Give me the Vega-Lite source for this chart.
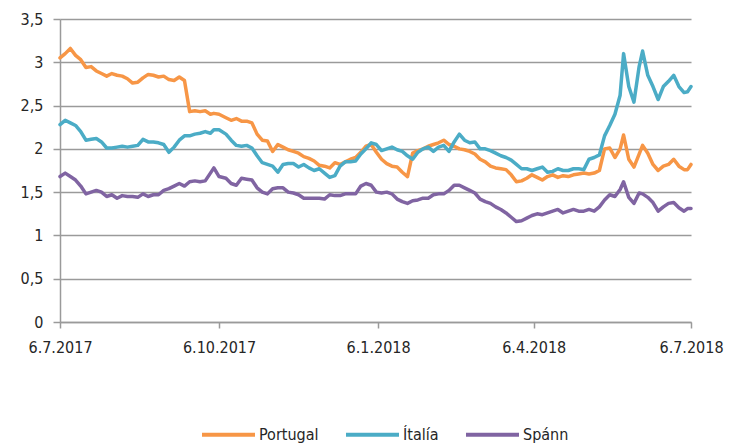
{
  "$schema": "https://vega.github.io/schema/vega-lite/v6.json",
  "width": 631,
  "height": 303,
  "autosize": {"type": "none"},
  "padding": {"left": 60, "top": 19, "right": 39, "bottom": 121},
  "background": "white",
  "config": {
    "view": {"stroke": null},
    "font": "DejaVu Sans Condensed",
    "axis": {"labelFont": "DejaVu Sans Condensed", "labelFontSize": 16, "labelColor": "#262626"},
    "legend": {"labelFont": "DejaVu Sans Condensed", "labelFontSize": 16, "labelColor": "#262626"}
  },
  "data": {
    "values": [
      {"date": "2017-07-06", "Portugal": 3.05, "Ítalía": 2.28, "Spánn": 1.68},
      {"date": "2017-07-09", "Portugal": 3.10, "Ítalía": 2.33, "Spánn": 1.72},
      {"date": "2017-07-12", "Portugal": 3.16, "Ítalía": 2.30, "Spánn": 1.68},
      {"date": "2017-07-15", "Portugal": 3.08, "Ítalía": 2.27, "Spánn": 1.64},
      {"date": "2017-07-18", "Portugal": 3.03, "Ítalía": 2.20, "Spánn": 1.57},
      {"date": "2017-07-21", "Portugal": 2.94, "Ítalía": 2.10, "Spánn": 1.48},
      {"date": "2017-07-24", "Portugal": 2.95, "Ítalía": 2.11, "Spánn": 1.50},
      {"date": "2017-07-27", "Portugal": 2.90, "Ítalía": 2.12, "Spánn": 1.52},
      {"date": "2017-07-30", "Portugal": 2.87, "Ítalía": 2.08, "Spánn": 1.50},
      {"date": "2017-08-02", "Portugal": 2.84, "Ítalía": 2.01, "Spánn": 1.45},
      {"date": "2017-08-05", "Portugal": 2.87, "Ítalía": 2.01, "Spánn": 1.47},
      {"date": "2017-08-08", "Portugal": 2.85, "Ítalía": 2.02, "Spánn": 1.43},
      {"date": "2017-08-11", "Portugal": 2.84, "Ítalía": 2.03, "Spánn": 1.46},
      {"date": "2017-08-14", "Portugal": 2.81, "Ítalía": 2.02, "Spánn": 1.45},
      {"date": "2017-08-17", "Portugal": 2.76, "Ítalía": 2.03, "Spánn": 1.45},
      {"date": "2017-08-20", "Portugal": 2.77, "Ítalía": 2.04, "Spánn": 1.44},
      {"date": "2017-08-23", "Portugal": 2.82, "Ítalía": 2.11, "Spánn": 1.48},
      {"date": "2017-08-26", "Portugal": 2.86, "Ítalía": 2.08, "Spánn": 1.45},
      {"date": "2017-08-29", "Portugal": 2.85, "Ítalía": 2.08, "Spánn": 1.47},
      {"date": "2017-09-01", "Portugal": 2.83, "Ítalía": 2.07, "Spánn": 1.47},
      {"date": "2017-09-04", "Portugal": 2.84, "Ítalía": 2.05, "Spánn": 1.52},
      {"date": "2017-09-07", "Portugal": 2.80, "Ítalía": 1.96, "Spánn": 1.54},
      {"date": "2017-09-10", "Portugal": 2.79, "Ítalía": 2.02, "Spánn": 1.57},
      {"date": "2017-09-13", "Portugal": 2.83, "Ítalía": 2.10, "Spánn": 1.60},
      {"date": "2017-09-16", "Portugal": 2.79, "Ítalía": 2.15, "Spánn": 1.57},
      {"date": "2017-09-19", "Portugal": 2.43, "Ítalía": 2.15, "Spánn": 1.62},
      {"date": "2017-09-22", "Portugal": 2.44, "Ítalía": 2.17, "Spánn": 1.63},
      {"date": "2017-09-25", "Portugal": 2.43, "Ítalía": 2.18, "Spánn": 1.62},
      {"date": "2017-09-28", "Portugal": 2.44, "Ítalía": 2.20, "Spánn": 1.63},
      {"date": "2017-10-01", "Portugal": 2.40, "Ítalía": 2.18, "Spánn": 1.72},
      {"date": "2017-10-03", "Portugal": 2.41, "Ítalía": 2.22, "Spánn": 1.78},
      {"date": "2017-10-06", "Portugal": 2.40, "Ítalía": 2.22, "Spánn": 1.68},
      {"date": "2017-10-10", "Portugal": 2.36, "Ítalía": 2.17, "Spánn": 1.66},
      {"date": "2017-10-13", "Portugal": 2.33, "Ítalía": 2.10, "Spánn": 1.60},
      {"date": "2017-10-16", "Portugal": 2.35, "Ítalía": 2.04, "Spánn": 1.58},
      {"date": "2017-10-19", "Portugal": 2.32, "Ítalía": 2.03, "Spánn": 1.66},
      {"date": "2017-10-22", "Portugal": 2.32, "Ítalía": 2.04, "Spánn": 1.65},
      {"date": "2017-10-25", "Portugal": 2.30, "Ítalía": 2.01, "Spánn": 1.64},
      {"date": "2017-10-28", "Portugal": 2.17, "Ítalía": 1.92, "Spánn": 1.55},
      {"date": "2017-10-31", "Portugal": 2.10, "Ítalía": 1.84, "Spánn": 1.50},
      {"date": "2017-11-03", "Portugal": 2.09, "Ítalía": 1.82, "Spánn": 1.48},
      {"date": "2017-11-06", "Portugal": 1.97, "Ítalía": 1.80, "Spánn": 1.54},
      {"date": "2017-11-09", "Portugal": 2.05, "Ítalía": 1.73, "Spánn": 1.55},
      {"date": "2017-11-12", "Portugal": 2.02, "Ítalía": 1.82, "Spánn": 1.55},
      {"date": "2017-11-15", "Portugal": 1.99, "Ítalía": 1.83, "Spánn": 1.50},
      {"date": "2017-11-18", "Portugal": 1.97, "Ítalía": 1.83, "Spánn": 1.49},
      {"date": "2017-11-21", "Portugal": 1.95, "Ítalía": 1.79, "Spánn": 1.47},
      {"date": "2017-11-24", "Portugal": 1.91, "Ítalía": 1.82, "Spánn": 1.43},
      {"date": "2017-11-27", "Portugal": 1.89, "Ítalía": 1.78, "Spánn": 1.43},
      {"date": "2017-11-30", "Portugal": 1.86, "Ítalía": 1.75, "Spánn": 1.43},
      {"date": "2017-12-03", "Portugal": 1.81, "Ítalía": 1.77, "Spánn": 1.43},
      {"date": "2017-12-06", "Portugal": 1.80, "Ítalía": 1.72, "Spánn": 1.42},
      {"date": "2017-12-09", "Portugal": 1.78, "Ítalía": 1.67, "Spánn": 1.47},
      {"date": "2017-12-12", "Portugal": 1.84, "Ítalía": 1.69, "Spánn": 1.46},
      {"date": "2017-12-15", "Portugal": 1.82, "Ítalía": 1.80, "Spánn": 1.46},
      {"date": "2017-12-18", "Portugal": 1.85, "Ítalía": 1.85, "Spánn": 1.48},
      {"date": "2017-12-21", "Portugal": 1.88, "Ítalía": 1.85, "Spánn": 1.48},
      {"date": "2017-12-24", "Portugal": 1.90, "Ítalía": 1.86, "Spánn": 1.48},
      {"date": "2017-12-27", "Portugal": 1.96, "Ítalía": 1.94, "Spánn": 1.57},
      {"date": "2017-12-30", "Portugal": 2.03, "Ítalía": 2.00, "Spánn": 1.60},
      {"date": "2018-01-02", "Portugal": 2.05, "Ítalía": 2.07, "Spánn": 1.58},
      {"date": "2018-01-05", "Portugal": 1.96, "Ítalía": 2.05, "Spánn": 1.50},
      {"date": "2018-01-08", "Portugal": 1.88, "Ítalía": 1.98, "Spánn": 1.49},
      {"date": "2018-01-11", "Portugal": 1.83, "Ítalía": 2.00, "Spánn": 1.50},
      {"date": "2018-01-14", "Portugal": 1.80, "Ítalía": 2.02, "Spánn": 1.48},
      {"date": "2018-01-17", "Portugal": 1.79, "Ítalía": 1.99, "Spánn": 1.42},
      {"date": "2018-01-20", "Portugal": 1.73, "Ítalía": 1.97, "Spánn": 1.39},
      {"date": "2018-01-23", "Portugal": 1.68, "Ítalía": 1.92, "Spánn": 1.37},
      {"date": "2018-01-26", "Portugal": 1.95, "Ítalía": 1.88, "Spánn": 1.40},
      {"date": "2018-01-29", "Portugal": 1.98, "Ítalía": 1.96, "Spánn": 1.41},
      {"date": "2018-02-01", "Portugal": 2.00, "Ítalía": 2.00, "Spánn": 1.43},
      {"date": "2018-02-04", "Portugal": 2.03, "Ítalía": 2.02, "Spánn": 1.43},
      {"date": "2018-02-07", "Portugal": 2.05, "Ítalía": 1.97, "Spánn": 1.47},
      {"date": "2018-02-10", "Portugal": 2.07, "Ítalía": 2.02, "Spánn": 1.48},
      {"date": "2018-02-13", "Portugal": 2.10, "Ítalía": 2.04, "Spánn": 1.48},
      {"date": "2018-02-16", "Portugal": 2.05, "Ítalía": 1.97, "Spánn": 1.52},
      {"date": "2018-02-19", "Portugal": 2.03, "Ítalía": 2.08, "Spánn": 1.58},
      {"date": "2018-02-22", "Portugal": 2.00, "Ítalía": 2.17, "Spánn": 1.58},
      {"date": "2018-02-25", "Portugal": 1.99, "Ítalía": 2.10, "Spánn": 1.55},
      {"date": "2018-02-28", "Portugal": 1.97, "Ítalía": 2.07, "Spánn": 1.52},
      {"date": "2018-03-03", "Portugal": 1.94, "Ítalía": 2.08, "Spánn": 1.49},
      {"date": "2018-03-06", "Portugal": 1.88, "Ítalía": 2.00, "Spánn": 1.42},
      {"date": "2018-03-09", "Portugal": 1.85, "Ítalía": 2.00, "Spánn": 1.39},
      {"date": "2018-03-12", "Portugal": 1.80, "Ítalía": 1.98, "Spánn": 1.37},
      {"date": "2018-03-15", "Portugal": 1.78, "Ítalía": 1.95, "Spánn": 1.33},
      {"date": "2018-03-18", "Portugal": 1.77, "Ítalía": 1.92, "Spánn": 1.30},
      {"date": "2018-03-21", "Portugal": 1.76, "Ítalía": 1.90, "Spánn": 1.26},
      {"date": "2018-03-24", "Portugal": 1.70, "Ítalía": 1.87, "Spánn": 1.21},
      {"date": "2018-03-27", "Portugal": 1.62, "Ítalía": 1.82, "Spánn": 1.16},
      {"date": "2018-03-30", "Portugal": 1.63, "Ítalía": 1.77, "Spánn": 1.17},
      {"date": "2018-04-02", "Portugal": 1.66, "Ítalía": 1.77, "Spánn": 1.20},
      {"date": "2018-04-05", "Portugal": 1.70, "Ítalía": 1.75, "Spánn": 1.23},
      {"date": "2018-04-08", "Portugal": 1.67, "Ítalía": 1.77, "Spánn": 1.25},
      {"date": "2018-04-11", "Portugal": 1.64, "Ítalía": 1.79, "Spánn": 1.24},
      {"date": "2018-04-14", "Portugal": 1.68, "Ítalía": 1.73, "Spánn": 1.26},
      {"date": "2018-04-17", "Portugal": 1.70, "Ítalía": 1.74, "Spánn": 1.28},
      {"date": "2018-04-20", "Portugal": 1.67, "Ítalía": 1.77, "Spánn": 1.30},
      {"date": "2018-04-23", "Portugal": 1.69, "Ítalía": 1.75, "Spánn": 1.26},
      {"date": "2018-04-26", "Portugal": 1.68, "Ítalía": 1.75, "Spánn": 1.28},
      {"date": "2018-04-29", "Portugal": 1.70, "Ítalía": 1.77, "Spánn": 1.30},
      {"date": "2018-05-02", "Portugal": 1.71, "Ítalía": 1.77, "Spánn": 1.28},
      {"date": "2018-05-05", "Portugal": 1.72, "Ítalía": 1.76, "Spánn": 1.28},
      {"date": "2018-05-08", "Portugal": 1.71, "Ítalía": 1.88, "Spánn": 1.30},
      {"date": "2018-05-11", "Portugal": 1.72, "Ítalía": 1.90, "Spánn": 1.28},
      {"date": "2018-05-14", "Portugal": 1.75, "Ítalía": 1.93, "Spánn": 1.33},
      {"date": "2018-05-17", "Portugal": 2.00, "Ítalía": 2.15, "Spánn": 1.41},
      {"date": "2018-05-20", "Portugal": 2.01, "Ítalía": 2.27, "Spánn": 1.47},
      {"date": "2018-05-23", "Portugal": 1.90, "Ítalía": 2.40, "Spánn": 1.45},
      {"date": "2018-05-26", "Portugal": 2.00, "Ítalía": 2.62, "Spánn": 1.53},
      {"date": "2018-05-28", "Portugal": 2.16, "Ítalía": 3.10, "Spánn": 1.62},
      {"date": "2018-05-31", "Portugal": 1.88, "Ítalía": 2.72, "Spánn": 1.44},
      {"date": "2018-06-03", "Portugal": 1.79, "Ítalía": 2.54, "Spánn": 1.37},
      {"date": "2018-06-06", "Portugal": 1.94, "Ítalía": 2.95, "Spánn": 1.49},
      {"date": "2018-06-08", "Portugal": 2.04, "Ítalía": 3.13, "Spánn": 1.48},
      {"date": "2018-06-11", "Portugal": 1.95, "Ítalía": 2.85, "Spánn": 1.44},
      {"date": "2018-06-14", "Portugal": 1.82, "Ítalía": 2.72, "Spánn": 1.38},
      {"date": "2018-06-17", "Portugal": 1.75, "Ítalía": 2.57, "Spánn": 1.28},
      {"date": "2018-06-20", "Portugal": 1.80, "Ítalía": 2.72, "Spánn": 1.33},
      {"date": "2018-06-23", "Portugal": 1.82, "Ítalía": 2.78, "Spánn": 1.37},
      {"date": "2018-06-26", "Portugal": 1.88, "Ítalía": 2.85, "Spánn": 1.38},
      {"date": "2018-06-29", "Portugal": 1.80, "Ítalía": 2.72, "Spánn": 1.32},
      {"date": "2018-07-02", "Portugal": 1.76, "Ítalía": 2.65, "Spánn": 1.28},
      {"date": "2018-07-04", "Portugal": 1.76, "Ítalía": 2.66, "Spánn": 1.31},
      {"date": "2018-07-06", "Portugal": 1.82, "Ítalía": 2.72, "Spánn": 1.31}
    ]
  },
  "transform": [
    {"fold": ["Portugal", "Ítalía", "Spánn"], "as": ["series", "value"]}
  ],
  "mark": {"type": "line", "strokeWidth": 3.5, "strokeJoin": "round", "strokeCap": "round"},
  "encoding": {
    "x": {
      "field": "date",
      "type": "temporal",
      "scale": {
        "type": "utc",
        "domain": [
          {"year": 2017, "month": 7, "date": 6, "utc": true},
          {"year": 2018, "month": 7, "date": 6, "utc": true}
        ],
        "nice": false
      },
      "axis": {
        "title": null,
        "grid": false,
        "values": [
          {"year": 2017, "month": 7, "date": 6, "utc": true},
          {"year": 2017, "month": 10, "date": 6, "utc": true},
          {"year": 2018, "month": 1, "date": 6, "utc": true},
          {"year": 2018, "month": 4, "date": 6, "utc": true},
          {"year": 2018, "month": 7, "date": 6, "utc": true}
        ],
        "labelExpr": "utcFormat(datum.value, '%-d.%-m.%Y')",
        "labelFlush": false,
        "labelOverlap": false,
        "domainColor": "#9a9a9a",
        "domainWidth": 1.5,
        "tickColor": "#9a9a9a",
        "tickWidth": 1.5,
        "tickSize": 6,
        "labelPadding": 11
      }
    },
    "y": {
      "field": "value",
      "type": "quantitative",
      "scale": {"domain": [0, 3.5], "nice": false, "zero": true},
      "axis": {
        "title": null,
        "values": [0, 0.5, 1, 1.5, 2, 2.5, 3, 3.5],
        "labelExpr": "replace(format(datum.value, '.2~g'), '.', ',')",
        "grid": true,
        "gridColor": "#9a9a9a",
        "gridWidth": 1.5,
        "domainColor": "#9a9a9a",
        "domainWidth": 1.5,
        "tickColor": "#9a9a9a",
        "tickWidth": 1.5,
        "tickSize": 7,
        "labelPadding": 10
      }
    },
    "color": {
      "field": "series",
      "type": "nominal",
      "sort": ["Portugal", "Ítalía", "Spánn"],
      "scale": {
        "domain": ["Portugal", "Ítalía", "Spánn"],
        "range": ["#F79646", "#4BACC6", "#8064A2"]
      },
      "legend": {
        "title": null,
        "orient": "none",
        "direction": "horizontal",
        "legendX": 140,
        "legendY": 387,
        "symbolType": "stroke",
        "symbolSize": 2809,
        "symbolStrokeWidth": 4,
        "labelOffset": 2,
        "columnPadding": 19,
        "padding": 0
      }
    }
  }
}
